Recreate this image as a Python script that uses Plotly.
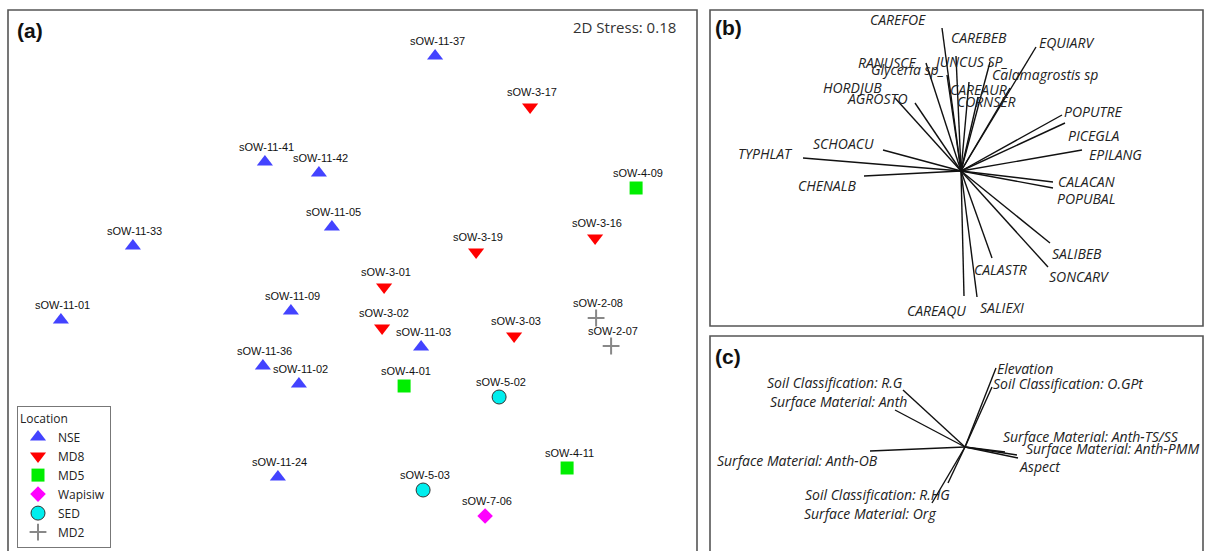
import plotly.graph_objects as go

W, H = 1205, 551

# ---------------- Panel (a): NMDS site scores ----------------
nse_names = ["sOW-11-37", "sOW-11-41", "sOW-11-42", "sOW-11-05", "sOW-11-33", "sOW-11-01",
             "sOW-11-09", "sOW-11-36", "sOW-11-02", "sOW-11-03", "sOW-11-24"]
nse_x = [0.413, -0.438, -0.168, -0.103, -1.098, -1.458, -0.308, -0.448, -0.268, 0.343, -0.373]
nse_y = [1.120, 0.590, 0.535, 0.265, 0.170, -0.200, -0.155, -0.430, -0.520, -0.335, -0.985]

md8_names = ["sOW-3-17", "sOW-3-16", "sOW-3-19", "sOW-3-01", "sOW-3-02", "sOW-3-03"]
md8_x = [0.888, 1.213, 0.618, 0.158, 0.148, 0.808]
md8_y = [0.865, 0.210, 0.140, -0.035, -0.240, -0.280]

md5_names = ["sOW-4-09", "sOW-4-01", "sOW-4-11"]
md5_x = [1.418, 0.258, 1.073]
md5_y = [0.460, -0.530, -0.940]

wap_names = ["sOW-7-06"]
wap_x = [0.663]
wap_y = [-1.180]

sed_names = ["sOW-5-02", "sOW-5-03"]
sed_x = [0.733, 0.353]
sed_y = [-0.585, -1.050]

md2_names = ["sOW-2-08", "sOW-2-07"]
md2_x = [1.218, 1.293]
md2_y = [-0.190, -0.330]

stress_text = "2D Stress: 0.18"

# ---------------- Panel (b): species vectors ----------------
sp_names = ["CAREFOE", "CAREBEB", "RANUSCE", "Glyceria sp_", "JUNCUS SP_", "EQUIARV",
            "Calamagrostis sp", "CAREAUR", "CORNSER", "HORDJUB", "AGROSTO", "SCHOACU",
            "TYPHLAT", "POPUTRE", "PICEGLA", "EPILANG", "CHENALB", "CALACAN", "POPUBAL",
            "SALIBEB", "SONCARV", "CALASTR", "CAREAQU", "SALIEXI"]
sp_vx = [-0.19, -0.05, -0.35, -0.14, 0.29, 0.75, 0.49, 0.08, 0.17, -0.66, -0.46, -0.78,
         -1.58, 1.01, 1.04, 1.21, -0.97, 0.92, 0.92, 0.89, 0.87, 0.31, 0.03, 0.16]
sp_vy = [1.43, 1.15, 1.08, 0.96, 1.09, 1.24, 0.83, 0.89, 0.74, 0.73, 0.68, 0.21,
         0.13, 0.56, 0.48, 0.21, -0.05, -0.11, -0.17, -0.72, -0.96, -0.87, -1.25, -1.26]
sp_lx = [-0.63, 0.18, -0.74, -0.54, 0.09, 1.05, 0.84, 0.17, 0.25, -1.09, -0.84, -1.18,
         -1.96, 1.32, 1.32, 1.54, -1.34, 1.25, 1.25, 1.16, 1.18, 0.39, -0.25, 0.41]
sp_ly = [1.51, 1.33, 1.08, 1.01, 1.09, 1.28, 0.96, 0.81, 0.69, 0.83, 0.72, 0.28,
         0.18, 0.59, 0.36, 0.17, -0.14, -0.10, -0.27, -0.82, -1.05, -0.98, -1.39, -1.36]

# ---------------- Panel (c): environmental vectors ----------------
env_names = ["Elevation", "Soil Classification: O.GPt", "Soil Classification: R.G",
             "Surface Material: Anth", "Surface Material: Anth-TS/SS",
             "Surface Material: Anth-PMM", "Aspect", "Surface Material: Anth-OB",
             "Soil Classification: R.HG", "Surface Material: Org"]
env_vx = [0.31, 0.27, -0.62, -0.70, 0.40, 0.52, 0.53, -0.95, -0.17, -0.33]
env_vy = [0.79, 0.60, 0.57, 0.37, -0.05, -0.08, -0.11, -0.04, -0.36, -0.56]
env_lx = [0.60, 1.03, -1.30, -1.27, 1.26, 1.47, 0.75, -1.68, -0.88, -0.95]
env_ly = [0.79, 0.64, 0.65, 0.46, 0.11, -0.01, -0.19, -0.13, -0.47, -0.66]

# ---------------- styling ----------------
groups = [
    ("NSE", nse_names, nse_x, nse_y, dict(symbol="triangle-up", size=14, color="#4343FF")),
    ("MD8", md8_names, md8_x, md8_y, dict(symbol="triangle-down", size=14, color="#FF0000")),
    ("MD5", md5_names, md5_x, md5_y, dict(symbol="square", size=13, color="#00EE00")),
    ("Wapisiw", wap_names, wap_x, wap_y, dict(symbol="diamond", size=12, color="#FF00FF")),
    ("SED", sed_names, sed_x, sed_y, dict(symbol="circle", size=14, color="#00EEEE",
                                          line=dict(color="#333333", width=1))),
    ("MD2", md2_names, md2_x, md2_y, dict(symbol="cross-thin", size=12, color="#888888",
                                          line=dict(color="#888888", width=2))),
]


def px_x(p):
    return p / W


def px_y(p):
    return (H - p) / H


fig = go.Figure()

annotations = []
for name, labels, xs, ys, mk in groups:
    fig.add_trace(go.Scatter(x=xs, y=ys, mode="markers", name=name, marker=mk,
                             xaxis="x", yaxis="y", hoverinfo="text", text=labels))
    for lab, xv, yv in zip(labels, xs, ys):
        annotations.append(dict(x=xv, y=yv, xref="x", yref="y", text=lab, showarrow=False,
                                yshift=15, xshift=2,
                                font=dict(family="Liberation Sans, Arial", size=11, color="#111")))


def vec_xy(vx, vy):
    xs, ys = [], []
    for a, b in zip(vx, vy):
        xs += [0, a, None]
        ys += [0, b, None]
    return xs, ys


bx, by = vec_xy(sp_vx, sp_vy)
fig.add_trace(go.Scatter(x=bx, y=by, mode="lines", line=dict(color="#111", width=1.4),
                         xaxis="x2", yaxis="y2", showlegend=False, hoverinfo="skip"))
cx, cy = vec_xy(env_vx, env_vy)
fig.add_trace(go.Scatter(x=cx, y=cy, mode="lines", line=dict(color="#111", width=1.4),
                         xaxis="x3", yaxis="y3", showlegend=False, hoverinfo="skip"))

ital = dict(family="Open Sans", size=14, color="#222")
for lab, xv, yv in zip(sp_names, sp_lx, sp_ly):
    annotations.append(dict(x=xv, y=yv, xref="x2", yref="y2", text="<i>%s</i>" % lab,
                            showarrow=False, font=ital))
for lab, xv, yv in zip(env_names, env_lx, env_ly):
    annotations.append(dict(x=xv, y=yv, xref="x3", yref="y3", text="<i>%s</i>" % lab,
                            showarrow=False, font=ital))

bold = dict(family="Liberation Sans, Arial", size=21, color="#111")
annotations += [
    dict(x=px_x(15), y=px_y(31), xref="paper", yref="paper", text="<b>(a)</b>",
         showarrow=False, xanchor="left", yanchor="middle", font=bold),
    dict(x=px_x(713), y=px_y(27), xref="paper", yref="paper", text="<b>(b)</b>",
         showarrow=False, xanchor="left", yanchor="middle", font=bold),
    dict(x=px_x(713), y=px_y(356), xref="paper", yref="paper", text="<b>(c)</b>",
         showarrow=False, xanchor="left", yanchor="middle", font=bold),
    dict(x=px_x(678), y=px_y(27), xref="paper", yref="paper", text=stress_text,
         showarrow=False, xanchor="right", yanchor="middle",
         font=dict(family="Open Sans", size=15, color="#333")),
]

border = dict(color="#555555", width=1.6)
shapes = [
    dict(type="path", xref="paper", yref="paper", line=border,
         path="M %f,%f L %f,%f L %f,%f L %f,%f" % (px_x(8), px_y(560), px_x(8), px_y(10),
                                                 px_x(697), px_y(10), px_x(697), px_y(560))),
    dict(type="rect", xref="paper", yref="paper", line=border,
         x0=px_x(710), x1=px_x(1203), y0=px_y(326), y1=px_y(10)),
    dict(type="path", xref="paper", yref="paper", line=border,
         path="M %f,%f L %f,%f L %f,%f L %f,%f" % (px_x(710), px_y(560), px_x(710), px_y(336),
                                                 px_x(1203), px_y(336), px_x(1203), px_y(560))),
]

hidden = dict(visible=False, showgrid=False, zeroline=False)
fig.update_layout(
    width=W, height=H, autosize=False,
    margin=dict(l=0, r=0, t=0, b=0),
    paper_bgcolor="white", plot_bgcolor="rgba(0,0,0,0)",
    xaxis=dict(domain=[px_x(8), px_x(697)], range=[-1.7225, 1.7225], **hidden),
    yaxis=dict(domain=[0, px_y(10)], range=[-1.355, 1.35], **hidden),
    xaxis2=dict(domain=[px_x(710), px_x(1203)], range=[-2.51, 2.42], **hidden),
    yaxis2=dict(domain=[px_y(326), px_y(10)], range=[-1.55, 1.61], **hidden),
    xaxis3=dict(domain=[px_x(710), px_x(1203)], range=[-2.55, 2.38], **hidden),
    yaxis3=dict(domain=[0, px_y(336)], range=[-1.04, 1.11], **hidden),
    annotations=annotations,
    shapes=shapes,
    showlegend=True,
    legend=dict(x=px_x(17), y=px_y(406), xanchor="left", yanchor="top",
                bordercolor="#777777", borderwidth=1, bgcolor="white",
                font=dict(family="Open Sans", size=12, color="#222"),
                title=dict(text="Location", font=dict(family="Open Sans", size=12, color="#222")),
                itemwidth=30, tracegroupgap=0),
)

fig.write_html("out.html", config={"displayModeBar": False},
               post_script="document.body.style.margin='0px';document.body.style.overflow='hidden';")
